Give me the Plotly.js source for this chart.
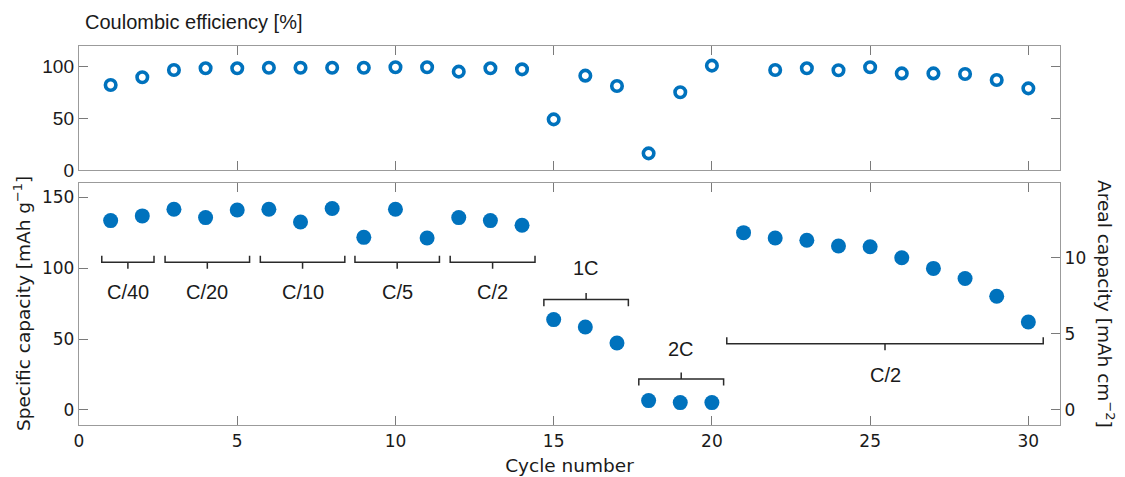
<!DOCTYPE html>
<html>
<head>
<meta charset="utf-8">
<script src="https://cdn.plot.ly/plotly-3.0.1.min.js"></script>
<style>html,body{margin:0;padding:0;background:#fff;}#chart{width:1125px;height:477px;}</style>
</head>
<body>
<div id="chart"></div>
<script>
// ---- data ----
const cycles = [1,2,3,4,5,6,7,8,9,10,11,12,13,14,15,16,17,18,19,20,21,22,23,24,25,26,27,28,29,30];
const coulombicEfficiency = [82.3,89.7,96.8,98.4,98.4,99,99,99,99,99.4,99.4,95.2,98.4,97.4,49,91.3,81.3,16.1,75.2,101,null,96.8,98.4,96.5,99.4,93.5,93.5,92.9,87.1,79];
const specificCapacity = [133.5,136.8,141.5,135.6,141,141.5,132.5,142,121.7,141.5,121.2,135.6,133.5,130.2,63.7,58.5,47.2,6.6,5.2,5.2,125,121.2,119.6,115.6,115.1,107.3,99.8,92.7,80.2,62];
const arealCapacity = [12.44,12.75,13.19,12.64,13.14,13.19,12.35,13.23,11.34,13.19,11.3,12.64,12.44,12.13,5.93,5.45,4.4,0.62,0.48,0.48,11.65,11.3,11.14,10.77,10.73,10.0,9.3,8.64,7.47,5.78];
const xTicks = [0,5,10,15,20,25,30];
const ceTicks = [0,50,100];
const scTicks = [0,50,100,150];
const acTicks = [0,5,10];
// rate brackets
const bracketLabels = ['C/40','C/20','C/10','C/5','C/2','1C','2C','C/2'];
const bracketStart  = [0.72,2.72,5.73,8.72,11.73,14.69,17.69,20.47];
const bracketEnd    = [2.37,5.39,8.40,11.39,14.41,17.36,20.37,30.47];
const bracketY      = [104.2,104.2,104.2,104.2,104.2,77.8,21.9,46.7];
const bracketDir    = [1,1,1,1,1,-1,-1,1];   // 1: arms up, label below; -1: arms down, label above
const bracketLabelY = [83,83,83,83,83,100,43,24.3];

const blue = '#0072BD';
const frame = '#9b9b9b';
const tickc = '#7a7a7a';
const numFont = {family:'DejaVu Sans, sans-serif', size:17, color:'#1a1a1a'};
const helv = {family:'Liberation Sans, Arial, sans-serif', size:20, color:'#1a1a1a'};

const traces = [
  {x:cycles, y:coulombicEfficiency, xaxis:'x', yaxis:'y', mode:'markers', type:'scatter',
   marker:{symbol:'circle-open', size:10.5, color:blue, line:{width:3.6, color:blue}}, name:'CE'},
  {x:cycles, y:specificCapacity, xaxis:'x2', yaxis:'y2', mode:'markers', type:'scatter',
   marker:{symbol:'circle', size:15, color:blue}, name:'Specific capacity'},
  {x:cycles, y:arealCapacity, xaxis:'x2', yaxis:'y3', mode:'markers', type:'scatter',
   marker:{symbol:'circle', size:15, color:blue, opacity:0}, name:'Areal capacity', hoverinfo:'x+y'}
];

const shapes = [];
const annotations = [];
const arm = 4.6, tk = 4.6;
for (let i = 0; i < bracketLabels.length; i++) {
  const x0 = bracketStart[i], x1 = bracketEnd[i], y = bracketY[i], d = bracketDir[i];
  const xc = (x0 + x1) / 2;
  shapes.push({type:'path', xref:'x2', yref:'y2',
    path:`M ${x0},${y + d*arm} L ${x0},${y} L ${x1},${y} L ${x1},${y + d*arm} M ${xc},${y} L ${xc},${y - d*tk}`,
    line:{color:'#2a2a2a', width:1.5}});
  annotations.push({xref:'x2', yref:'y2', x:xc, y:bracketLabelY[i], text:bracketLabels[i],
    showarrow:false, font:helv, xanchor:'center', yanchor:'middle'});
}
annotations.push({xref:'paper', yref:'paper', x:0.004, y:1.0, yshift:24, text:'Coulombic efficiency [%]',
  showarrow:false, xanchor:'left', yanchor:'middle', font:{family:'Liberation Sans, Arial, sans-serif', size:20, color:'#1a1a1a'}});
annotations.push({xref:'paper', yref:'paper', x:0, xshift:-57, y:0.319, text:'Specific capacity [mAh g<sup>−1</sup>]',
  showarrow:false, textangle:-90, xanchor:'center', yanchor:'middle', font:{family:'DejaVu Sans, sans-serif', size:18.5, color:'#1a1a1a'}});
annotations.push({xref:'paper', yref:'paper', x:1, xshift:46, y:0.319, text:'Areal capacity [mAh cm<sup>−2</sup>]',
  showarrow:false, textangle:90, xanchor:'center', yanchor:'middle', font:{family:'DejaVu Sans, sans-serif', size:18.5, color:'#1a1a1a'}});

const axBase = {showline:true, linecolor:frame, linewidth:1.2, ticks:'inside', ticklen:9, tickcolor:tickc, tickwidth:1,
  showgrid:false, zeroline:false, tickfont:numFont};

const layout = {
  width:1125, height:477,
  margin:{l:79, r:65, t:46, b:52},
  paper_bgcolor:'#fff', plot_bgcolor:'#fff',
  showlegend:false,
  xaxis:Object.assign({}, axBase, {domain:[0,1], anchor:'y', range:[0,31], tickvals:xTicks, showticklabels:false, mirror:'ticks'}),
  yaxis:Object.assign({}, axBase, {domain:[0.6728,1], anchor:'x', range:[0,120], tickvals:ceTicks, mirror:'ticks',
    tickfont:{family:'Liberation Sans, Arial, sans-serif', size:19, color:'#1a1a1a'}}),
  xaxis2:Object.assign({}, axBase, {domain:[0,1], anchor:'y2', range:[0,31], tickvals:xTicks, mirror:'ticks',
    title:{text:'Cycle number', font:{family:'DejaVu Sans, sans-serif', size:18.5, color:'#1a1a1a'}, standoff:9}}),
  yaxis2:Object.assign({}, axBase, {domain:[0,0.6385], anchor:'x2', range:[-10.6,160], tickvals:scTicks, mirror:true}),
  yaxis3:Object.assign({}, axBase, {overlaying:'y2', side:'right', anchor:'x2', range:[-0.99,14.91], tickvals:acTicks}),
  shapes:shapes,
  annotations:annotations
};

Plotly.newPlot('chart', traces, layout, {displayModeBar:false, staticPlot:true});
</script>
</body>
</html>
